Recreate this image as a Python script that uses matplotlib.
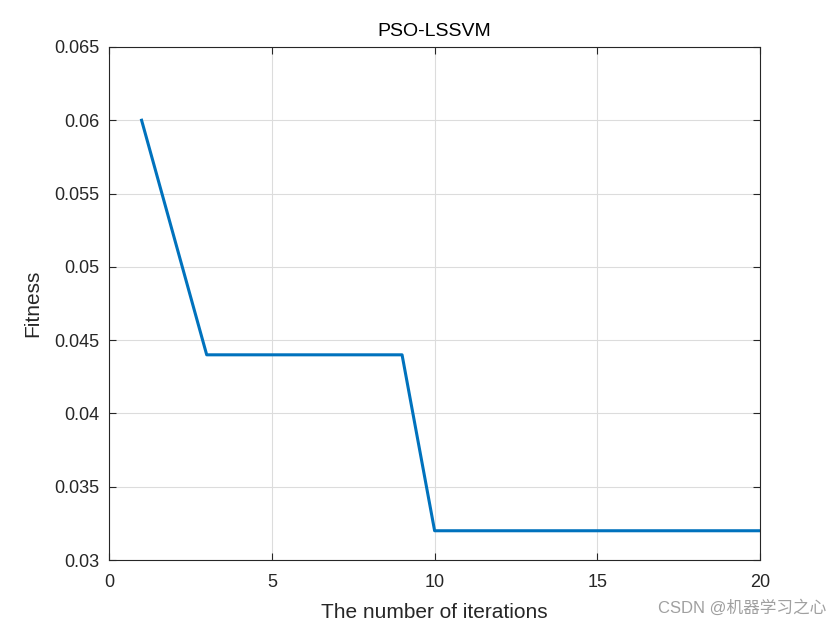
import matplotlib.pyplot as plt

# data
iters = list(range(1, 21))
fitness = [0.060, 0.052, 0.044, 0.044, 0.044, 0.044, 0.044, 0.044, 0.044,
           0.032, 0.032, 0.032, 0.032, 0.032, 0.032, 0.032, 0.032, 0.032,
           0.032, 0.032]
xticks = [0, 5, 10, 15, 20]
yticks = [0.03, 0.035, 0.04, 0.045, 0.05, 0.055, 0.06, 0.065]
ytick_labels = ["0.03", "0.035", "0.04", "0.045", "0.05", "0.055", "0.06", "0.065"]

plt.rcParams['font.family'] = ['Liberation Sans', 'Noto Sans CJK SC', 'DejaVu Sans']

fig = plt.figure(figsize=(8.4, 6.3), dpi=100)
ax = fig.add_axes([0.1298, 0.111, 0.7752, 0.8145])

ax.plot(iters, fitness, color="#0072BD", linewidth=2.2)

ax.set_xlim(0, 20)
ax.set_ylim(0.03, 0.065)
ax.set_xticks(xticks)
ax.set_yticks(yticks)
ax.set_yticklabels(ytick_labels)
ax.grid(True, color="#dcdcdc", linewidth=0.8)
ax.set_axisbelow(True)

ax.tick_params(direction="in", length=5, labelsize=13, colors="#262626",
               top=True, right=True, width=0.8)
ax.tick_params(axis="x", pad=10)
ax.tick_params(axis="y", pad=7)
for s in ax.spines.values():
    s.set_color("#262626")
    s.set_linewidth(0.8)

ax.set_title("PSO-LSSVM", fontsize=14, color="black", pad=8)
ax.set_xlabel("The number of iterations", fontsize=15, color="#262626", labelpad=9)
ax.set_ylabel("Fitness", fontsize=15, color="#262626", labelpad=8.5)

fig.text(0.984, 0.022, "CSDN @机器学习之心", ha="right", va="bottom",
         fontsize=12, color="#a0a0a0")

fig.savefig("out.png", dpi=100, facecolor="white")
